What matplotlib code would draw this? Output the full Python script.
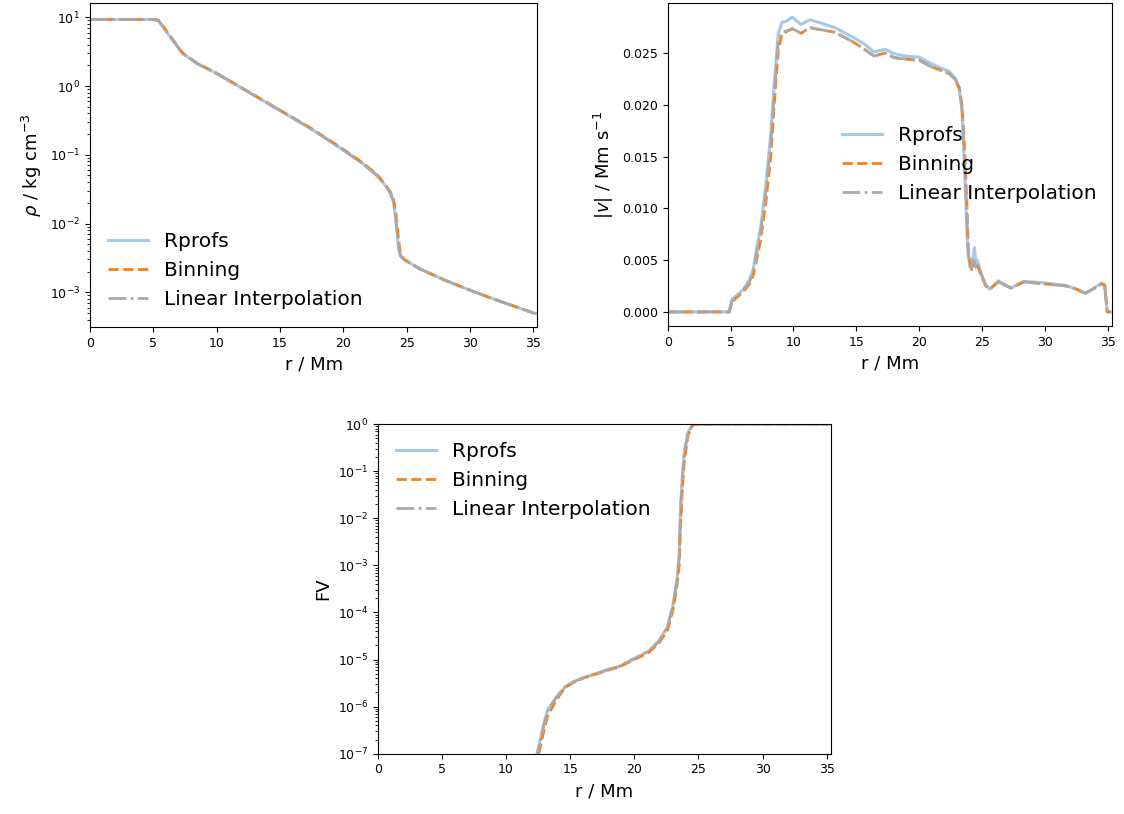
import numpy as np
import matplotlib.pyplot as plt
from matplotlib.ticker import LogLocator, NullFormatter

# radial profiles (r in Mm)
r_rho = [0.0, 2.0, 4.0, 5.0, 5.4, 6.2, 7.3, 8.5, 9.9, 12.5, 15.0, 17.5, 20.0, 21.5, 22.6, 23.3, 23.7, 23.95,
         24.15, 24.35, 24.5, 24.8, 26.0, 28.0, 30.0, 32.0, 34.0, 35.0, 35.2]
rho_rprofs = [9.3, 9.3, 9.3, 9.3, 9.0, 5.6, 3.0, 2.1, 1.56, 0.82, 0.44, 0.235, 0.117, 0.075, 0.051, 0.036,
              0.028, 0.021, 0.011, 0.0045, 0.0034, 0.003, 0.0022, 0.0015, 0.00107, 0.00078, 0.00058, 0.0005, 0.00049]
rho_binning = [9.3, 9.3, 9.3, 9.3, 9.1, 5.8, 3.05, 2.12, 1.57, 0.83, 0.445, 0.24, 0.12, 0.077, 0.053, 0.037,
               0.029, 0.023, 0.014, 0.006, 0.0036, 0.003, 0.0022, 0.0015, 0.00107, 0.00078, 0.00058, 0.0005, 0.00049]
rho_interp = [9.3, 9.3, 9.3, 9.3, 9.0, 5.65, 3.0, 2.1, 1.56, 0.82, 0.44, 0.236, 0.117, 0.075, 0.051, 0.036,
              0.028, 0.021, 0.011, 0.0046, 0.0034, 0.003, 0.0022, 0.0015, 0.00107, 0.00078, 0.00058, 0.0005, 0.00049]

r_v = [0.0, 4.9, 5.1, 5.4, 6.0, 6.5, 6.8, 7.1, 7.4, 7.8, 8.2, 8.5, 8.8, 9.1, 9.35, 9.9, 10.6, 11.3, 11.9,
       13.3, 14.7, 15.6, 16.4, 17.3, 18.0, 19.0, 20.0, 20.9, 22.4, 22.9, 23.2, 23.4, 23.6, 23.8, 23.9, 24.1,
       24.3, 24.4, 24.5, 24.6, 24.9, 25.3, 25.6, 26.3, 27.3, 28.3, 30.0, 31.7, 32.5, 33.2, 33.8, 34.5, 34.75,
       34.95, 35.2]
v_rprofs = [0.0, 0.0, 0.0012, 0.0015, 0.00215, 0.0031, 0.0041, 0.0063, 0.0082, 0.0121, 0.0172, 0.0224,
            0.0269, 0.0280, 0.0280, 0.02846, 0.02776, 0.0282, 0.0280, 0.02744, 0.02654, 0.0259, 0.0251,
            0.02535, 0.02494, 0.02468, 0.0246, 0.0240, 0.0232, 0.02253, 0.0214, 0.0195, 0.0140, 0.0076,
            0.0054, 0.0044, 0.0054, 0.0062, 0.0044, 0.0050, 0.0038, 0.0026, 0.0022, 0.0030, 0.0023, 0.00295,
            0.0028, 0.00254, 0.0022, 0.00177, 0.0022, 0.0028, 0.0025, 0.0, 0.0]
v_binning = [0.0, 0.0, 0.0009, 0.0013, 0.0019, 0.0027, 0.0035, 0.0052, 0.0070, 0.0105, 0.0150, 0.0205,
             0.0253, 0.0269, 0.0270, 0.02734, 0.0269, 0.02744, 0.0273, 0.0270, 0.0261, 0.0254, 0.0247,
             0.0250, 0.02455, 0.0244, 0.0243, 0.0237, 0.0230, 0.0224, 0.0216, 0.0200, 0.0160, 0.0102,
             0.0060, 0.0039, 0.0047, 0.0045, 0.0044, 0.0046, 0.0036, 0.0025, 0.0022, 0.0029, 0.0023, 0.0029,
             0.0027, 0.0025, 0.0022, 0.0018, 0.0022, 0.0027, 0.0026, 0.0, 0.0]
v_interp = [0.0, 0.0, 0.0010, 0.0014, 0.0020, 0.0029, 0.0038, 0.0058, 0.0077, 0.0115, 0.0163, 0.0215,
            0.0262, 0.0270, 0.0271, 0.02735, 0.0269, 0.02745, 0.0273, 0.0270, 0.0261, 0.0254, 0.0247,
            0.0250, 0.02455, 0.0244, 0.0243, 0.0237, 0.0230, 0.0224, 0.0215, 0.0197, 0.0150, 0.0090,
            0.0058, 0.0040, 0.0050, 0.0048, 0.0043, 0.0047, 0.0037, 0.0025, 0.0022, 0.0029, 0.0023, 0.0029,
            0.0027, 0.0025, 0.0022, 0.0018, 0.0022, 0.0027, 0.0026, 0.0, 0.0]

r_fv = [12.3, 12.83, 13.25, 13.8, 14.2, 14.65, 15.2, 16.0, 17.2, 18.0, 18.85, 20.0, 21.1, 21.9, 22.6, 23.0,
        23.3, 23.5, 23.6, 23.75, 23.9, 24.2, 24.6, 26.0, 30.0, 35.2]
fv_rprofs = [7e-8, 3.2e-7, 8.7e-7, 1.4e-6, 1.95e-6, 2.7e-6, 3.3e-6, 4.1e-6, 5.2e-6, 6.2e-6, 7.2e-6, 1.05e-5,
             1.5e-5, 2.45e-5, 5.1e-5, 1.4e-4, 4.4e-4, 1.6e-3, 1.6e-2, 8.1e-2, 0.26, 0.69, 1.0, 1.0, 1.0, 1.0]
fv_binning = [5e-8, 2.2e-7, 6.5e-7, 1.2e-6, 1.8e-6, 2.6e-6, 3.2e-6, 4.0e-6, 5.1e-6, 6.0e-6, 7.0e-6, 1.0e-5,
              1.4e-5, 2.2e-5, 4.3e-5, 1.1e-4, 3.2e-4, 1.0e-3, 6.5e-3, 4.5e-2, 0.17, 0.6, 0.98, 1.0, 1.0, 1.0]
fv_interp = [6.5e-8, 3.0e-7, 8.4e-7, 1.4e-6, 1.95e-6, 2.7e-6, 3.3e-6, 4.1e-6, 5.2e-6, 6.2e-6, 7.2e-6, 1.05e-5,
             1.5e-5, 2.4e-5, 5.0e-5, 1.35e-4, 4.2e-4, 1.5e-3, 1.4e-2, 7.5e-2, 0.25, 0.68, 1.0, 1.0, 1.0, 1.0]

labels = ['Rprofs', 'Binning', 'Linear Interpolation']
styles = [dict(color='#a6c8ea', ls='-', lw=2.2),
          dict(color='#ff7f0e', ls='--', lw=2.0),
          dict(color='#a9a9a9', ls='-.', lw=2.0)]

plt.rcParams['xtick.labelsize'] = 9
plt.rcParams['ytick.labelsize'] = 9
LEG_FS = 14.5

fig = plt.figure(figsize=(11.24, 8.14), dpi=100)
ax1 = fig.add_axes([0.080, 0.598, 0.398, 0.398])
ax2 = fig.add_axes([0.594, 0.599, 0.395, 0.397])
ax3 = fig.add_axes([0.336, 0.074, 0.403, 0.405])


def plot_set(ax, r, series):
    for y, lab, st in zip(series, labels, styles):
        ax.plot(r, y, label=lab, **st)
    ax.set_xlim(0, 35.3)
    ax.set_xlabel('r / Mm', fontsize=13)


def log_minor(ax):
    ax.yaxis.set_minor_locator(LogLocator(base=10, subs=np.arange(2, 10), numticks=20))
    ax.yaxis.set_minor_formatter(NullFormatter())


plot_set(ax1, r_rho, [rho_rprofs, rho_binning, rho_interp])
ax1.set_yscale('log')
ax1.set_ylim(3.1e-4, 16)
log_minor(ax1)
ax1.set_ylabel(r'$\rho$ / kg cm$^{-3}$', fontsize=13)
ax1.legend(loc='lower left', frameon=False, fontsize=LEG_FS)

plot_set(ax2, r_v, [v_rprofs, v_binning, v_interp])
ax2.set_ylim(-0.0014, 0.0298)
ax2.set_ylabel(r'$|v|$ / Mm s$^{-1}$', fontsize=13)
ax2.legend(loc='center', bbox_to_anchor=(0.68, 0.5), frameon=False, fontsize=LEG_FS)

plot_set(ax3, r_fv, [fv_rprofs, fv_binning, fv_interp])
ax3.set_yscale('log')
ax3.set_ylim(1e-7, 1)
log_minor(ax3)
ax3.set_ylabel('FV', fontsize=13)
ax3.legend(loc='upper left', frameon=False, fontsize=LEG_FS)

fig.savefig('out.png', dpi=100)
